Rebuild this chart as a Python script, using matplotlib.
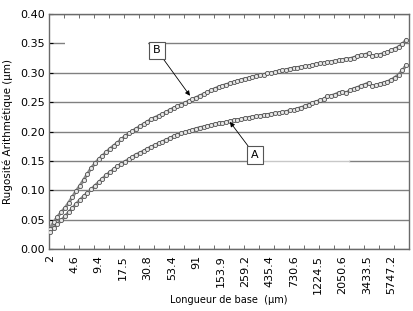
import numpy as np
import matplotlib
matplotlib.use('Agg')
import matplotlib.pyplot as plt
from matplotlib.patches import Rectangle

plt.rcParams['font.family'] = ['DejaVu Sans']

# x tick labels (longueur de base, um) - one label every 13 categories
x_labels = ['2', '4.6', '9.4', '17.5', '30.8', '53.4', '91', '153.9', '259.2',
            '435.4', '730.6', '1224.5', '2050.6', '3433.5', '5747.2']
n_cat = 192
label_step = 13
tick_step = 8

# Ra values (every 2nd category)
curve_B = [0.035, 0.046, 0.055, 0.063, 0.070, 0.079, 0.089, 0.099, 0.108, 0.118,
           0.128, 0.138, 0.146, 0.153, 0.159, 0.165, 0.171, 0.176, 0.181, 0.187,
           0.192, 0.197, 0.201, 0.205, 0.209, 0.213, 0.217, 0.221, 0.224, 0.227,
           0.230, 0.233, 0.237, 0.240, 0.243, 0.246, 0.249, 0.252, 0.255, 0.258,
           0.261, 0.264, 0.267, 0.270, 0.273, 0.276, 0.278, 0.280, 0.282, 0.284,
           0.286, 0.288, 0.290, 0.291, 0.293, 0.294, 0.296, 0.297, 0.299, 0.300,
           0.301, 0.303, 0.304, 0.305, 0.307, 0.308, 0.309, 0.310, 0.311, 0.312,
           0.313, 0.315, 0.316, 0.317, 0.318, 0.319, 0.320, 0.321, 0.322, 0.324,
           0.324, 0.326, 0.328, 0.330, 0.331, 0.333, 0.328, 0.330, 0.331, 0.333,
           0.335, 0.338, 0.341, 0.344, 0.349, 0.356]
curve_A = [0.030, 0.037, 0.043, 0.049, 0.056, 0.063, 0.070, 0.077, 0.084, 0.090,
           0.096, 0.102, 0.108, 0.114, 0.120, 0.126, 0.131, 0.136, 0.141, 0.145,
           0.149, 0.153, 0.157, 0.161, 0.164, 0.167, 0.171, 0.174, 0.177, 0.180,
           0.183, 0.186, 0.189, 0.192, 0.195, 0.197, 0.199, 0.201, 0.203, 0.205,
           0.207, 0.208, 0.210, 0.211, 0.213, 0.214, 0.215, 0.216, 0.218, 0.219,
           0.220, 0.221, 0.223, 0.224, 0.225, 0.226, 0.227, 0.228, 0.229, 0.230,
           0.231, 0.232, 0.233, 0.234, 0.236, 0.237, 0.239, 0.241, 0.243, 0.246,
           0.249, 0.251, 0.253, 0.255, 0.260, 0.261, 0.263, 0.266, 0.268, 0.266,
           0.270, 0.273, 0.275, 0.278, 0.280, 0.283, 0.277, 0.279, 0.281, 0.283,
           0.285, 0.288, 0.292, 0.297, 0.304, 0.313]

x = np.arange(len(curve_B)) * 2 + 0.5

fig = plt.figure(figsize=(4.13, 3.11), dpi=100)
ax = fig.add_axes([0.1186, 0.1984, 0.8716, 0.7566])

ax.set_xlim(0, n_cat)
ax.set_ylim(0, 0.40)
ax.set_yticks(np.arange(0, 0.401, 0.05))
ax.set_yticklabels([f'{v:.2f}' for v in np.arange(0, 0.401, 0.05)], fontsize=8)
ax.yaxis.grid(True, color='#808080', lw=1.0)
ax.set_axisbelow(True)

# hidden / faded parts of gridlines
ax.add_patch(Rectangle((0.044, 0.35 / 0.4 - 0.01), 0.231, 0.02, transform=ax.transAxes,
                       fc='white', ec='none', zorder=1.5))
ax.add_patch(Rectangle((0.594, 0.15 / 0.4 - 0.01), 0.239, 0.02, transform=ax.transAxes,
                       fc='white', ec='none', zorder=1.5))
ax.axhline(0.15, xmin=0.594, xmax=0.833, color='#c8c8c8', lw=1.0, zorder=1.6)

for y in (curve_B, curve_A):
    ax.plot(x, y, '-', color='#8a8a8a', lw=2.2, zorder=2.8)
    ax.plot(x, y, 'o', ms=3.0, mfc='#e6e6e6', mec='#505050', mew=0.6, zorder=3)

lab_pos = np.arange(len(x_labels)) * label_step + 0.5
ax.set_xticks(lab_pos)
ax.set_xticklabels(x_labels, rotation=90, fontsize=8)
ax.tick_params(axis='x', which='major', length=0, pad=4)
ax.set_xticks(np.arange(0, n_cat + 1, tick_step), minor=True)
ax.tick_params(axis='x', which='minor', direction='in', length=3, top=True,
               color='#555555')
ax.tick_params(axis='y', direction='in', length=3, right=False, pad=3)

for s in ax.spines.values():
    s.set_color('#6a6a6a')
    s.set_linewidth(1.0)

ax.set_ylabel('Rugosité Arithmétique (µm)', fontsize=7.5, labelpad=5)
ax.set_xlabel('Longueur de base  (µm)', fontsize=7, labelpad=1)

box = dict(boxstyle='square,pad=0.35', fc='white', ec='#555555', lw=0.8)
ax.annotate('B', xy=(75.2, 0.261), xytext=(57.6, 0.338), fontsize=8,
            ha='center', va='center', bbox=box,
            arrowprops=dict(arrowstyle='-|>', color='black', lw=0.6,
                            relpos=(1, 0), shrinkA=0, shrinkB=0,
                            mutation_scale=7), zorder=4)
ax.annotate('A', xy=(96.5, 0.2166), xytext=(109.9, 0.160), fontsize=8,
            ha='center', va='center', bbox=box,
            arrowprops=dict(arrowstyle='-|>', color='black', lw=0.6,
                            relpos=(0, 1), shrinkA=0, shrinkB=0,
                            mutation_scale=7), zorder=4)

fig.savefig('out.png', dpi=100)
